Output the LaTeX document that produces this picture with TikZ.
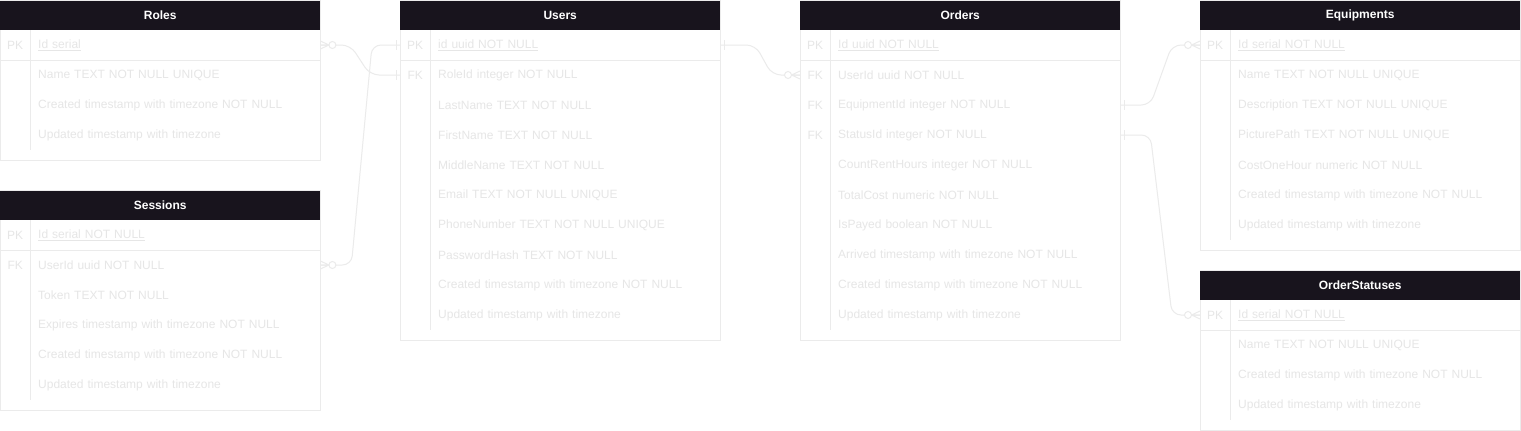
\documentclass[tikz,border=0pt]{standalone}
\usepackage{fontspec}
\setmainfont{Liberation Sans}
\definecolor{hdrc}{HTML}{18141D}
\definecolor{txt}{HTML}{E6E6E6}
\definecolor{linec}{HTML}{EBEBEB}
\newcommand\erframe[4]{% x, top, bottom, sepbottom
  \draw[frame] (#1,#2) rectangle (#1+320,#3);
  \draw[frame] (#1,#2+60) -- (#1+320,#2+60);
  \draw[frame] (#1+30,#2+30) -- (#1+30,#4);
}
\tikzset{
  frame/.style={draw=linec, line width=1pt},
  conn/.style={draw=linec, line width=1pt, rounded corners=9pt},
  hdr/.style={fill=hdrc, draw=none, minimum width=320pt, minimum height=29pt, inner sep=0pt, text=white, font=\bfseries\fontsize{12}{14}\selectfont, anchor=north west},
  keycell/.style={minimum width=30pt, minimum height=30pt, inner sep=0pt, anchor=west, text=txt, font=\fontsize{12}{14}\selectfont},
  fld/.style={text width=274pt, inner xsep=8pt, inner ysep=0pt, minimum height=30pt, anchor=west, align=left, text=txt, font=\fontsize{12}{14}\selectfont},
  zmany/.pic={\draw[draw=linec, line width=1pt] (0,-4) -- (8.5,0) -- (0,4) (0,0) -- (8.5,0);
              \draw[draw=linec, line width=1pt, fill=white] (12,0) circle[radius=3.5pt];},
  onetick/.pic={\draw[draw=linec, line width=1pt] (4,-5) -- (4,5);}
}
\begin{document}
\begin{tikzpicture}[x=1pt,y=-1pt]
\useasboundingbox[fill=white] (0,0) rectangle (1521,431);

% ---------- Roles ----------
\erframe{0}{0}{160}{150}
\node[hdr] (roles) at (0,0.5) {Roles};
\node[keycell] (r-k0) at (0,45) {PK};
\node[fld] (r-f0) at (30,45) {\underline{Id serial}};
\node[fld] (r-f1) at (30,75) {Name TEXT NOT NULL UNIQUE};
\node[fld] (r-f2) at (30,105) {Created timestamp with timezone NOT NULL};
\node[fld] (r-f3) at (30,135) {Updated timestamp with timezone};

% ---------- Sessions ----------
\erframe{0}{190}{410}{400}
\node[hdr] (sessions) at (0,190.5) {Sessions};
\node[keycell] (s-k0) at (0,235) {PK};
\node[fld] (s-f0) at (30,235) {\underline{Id serial NOT NULL}};
\node[keycell] (s-k1) at (0,265) {FK};
\node[fld] (s-f1) at (30,265) {UserId uuid NOT NULL};
\node[fld] (s-f2) at (30,295) {Token TEXT NOT NULL};
\node[fld] (s-f3) at (30,325) {Expires timestamp with timezone NOT NULL};
\node[fld] (s-f4) at (30,355) {Created timestamp with timezone NOT NULL};
\node[fld] (s-f5) at (30,385) {Updated timestamp with timezone};

% ---------- Users ----------
\erframe{400}{0}{340}{330}
\node[hdr] (users) at (400,0.5) {Users};
\node[keycell] (u-k0) at (400,45) {PK};
\node[fld] (u-f0) at (430,45) {\underline{id uuid NOT NULL}};
\node[keycell] (u-k1) at (400,75) {FK};
\node[fld] (u-f1) at (430,75) {RoleId integer NOT NULL};
\node[fld] (u-f2) at (430,105) {LastName TEXT NOT NULL};
\node[fld] (u-f3) at (430,135) {FirstName TEXT NOT NULL};
\node[fld] (u-f4) at (430,165) {MiddleName TEXT NOT NULL};
\node[fld] (u-f5) at (430,195) {Email TEXT NOT NULL UNIQUE};
\node[fld] (u-f6) at (430,225) {PhoneNumber TEXT NOT NULL UNIQUE};
\node[fld] (u-f7) at (430,255) {PasswordHash TEXT NOT NULL};
\node[fld] (u-f8) at (430,285) {Created timestamp with timezone NOT NULL};
\node[fld] (u-f9) at (430,315) {Updated timestamp with timezone};

% ---------- Orders ----------
\erframe{800}{0}{340}{330}
\node[hdr] (orders) at (800,0.5) {Orders};
\node[keycell] (o-k0) at (800,45) {PK};
\node[fld] (o-f0) at (830,45) {\underline{Id uuid NOT NULL}};
\node[keycell] (o-k1) at (800,75) {FK};
\node[fld] (o-f1) at (830,75) {UserId uuid NOT NULL};
\node[keycell] (o-k2) at (800,105) {FK};
\node[fld] (o-f2) at (830,105) {EquipmentId integer NOT NULL};
\node[keycell] (o-k3) at (800,135) {FK};
\node[fld] (o-f3) at (830,135) {StatusId integer NOT NULL};
\node[fld] (o-f4) at (830,165) {CountRentHours integer NOT NULL};
\node[fld] (o-f5) at (830,195) {TotalCost numeric NOT NULL};
\node[fld] (o-f6) at (830,225) {IsPayed boolean NOT NULL};
\node[fld] (o-f7) at (830,255) {Arrived timestamp with timezone NOT NULL};
\node[fld] (o-f8) at (830,285) {Created timestamp with timezone NOT NULL};
\node[fld] (o-f9) at (830,315) {Updated timestamp with timezone};

% ---------- Equipments ----------
\erframe{1200}{0}{250}{240}
\node[hdr] (equip) at (1200,0.5) {Equipments};
\node[keycell] (e-k0) at (1200,45) {PK};
\node[fld] (e-f0) at (1230,45) {\underline{Id serial NOT NULL}};
\node[fld] (e-f1) at (1230,75) {Name TEXT NOT NULL UNIQUE};
\node[fld] (e-f2) at (1230,105) {Description TEXT NOT NULL UNIQUE};
\node[fld] (e-f3) at (1230,135) {PicturePath TEXT NOT NULL UNIQUE};
\node[fld] (e-f4) at (1230,165) {CostOneHour numeric NOT NULL};
\node[fld] (e-f5) at (1230,195) {Created timestamp with timezone NOT NULL};
\node[fld] (e-f6) at (1230,225) {Updated timestamp with timezone};

% ---------- OrderStatuses ----------
\erframe{1200}{270}{430}{420}
\node[hdr] (ostat) at (1200,270.5) {OrderStatuses};
\node[keycell] (os-k0) at (1200,315) {PK};
\node[fld] (os-f0) at (1230,315) {\underline{Id serial NOT NULL}};
\node[fld] (os-f1) at (1230,345) {Name TEXT NOT NULL UNIQUE};
\node[fld] (os-f2) at (1230,375) {Created timestamp with timezone NOT NULL};
\node[fld] (os-f3) at (1230,405) {Updated timestamp with timezone};

% ---------- Connectors ----------
\draw[conn] (r-f0.east) -- ++(30,0) -- ([xshift=-30pt]u-k1.west) -- (u-k1.west);
\draw[conn] (s-f1.east) -- ++(31,0) -- ([xshift=-28pt]u-k0.west) -- (u-k0.west);
\draw[conn] (u-f0.east) -- ++(35,0) -- ([xshift=-28pt]o-k1.west) -- (o-k1.west);
\draw[conn] (o-f2.east) -- ++(30,0) -- ([xshift=-28pt]e-k0.west) -- (e-k0.west);
\draw[conn] (o-f3.east) -- ++(30,0) -- ([xshift=-28pt]os-k0.west) -- (os-k0.west);

% ---------- End marks ----------
\pic at (r-f0.east) {zmany};
\pic at (s-f1.east) {zmany};
\pic[xscale=-1] at (o-k1.west) {zmany};
\pic[xscale=-1] at (e-k0.west) {zmany};
\pic[xscale=-1] at (os-k0.west) {zmany};
\pic[xscale=-1] at (u-k0.west) {onetick};
\pic[xscale=-1] at (u-k1.west) {onetick};
\pic at (u-f0.east) {onetick};
\pic at (o-f2.east) {onetick};
\pic at (o-f3.east) {onetick};
\end{tikzpicture}
\end{document}
